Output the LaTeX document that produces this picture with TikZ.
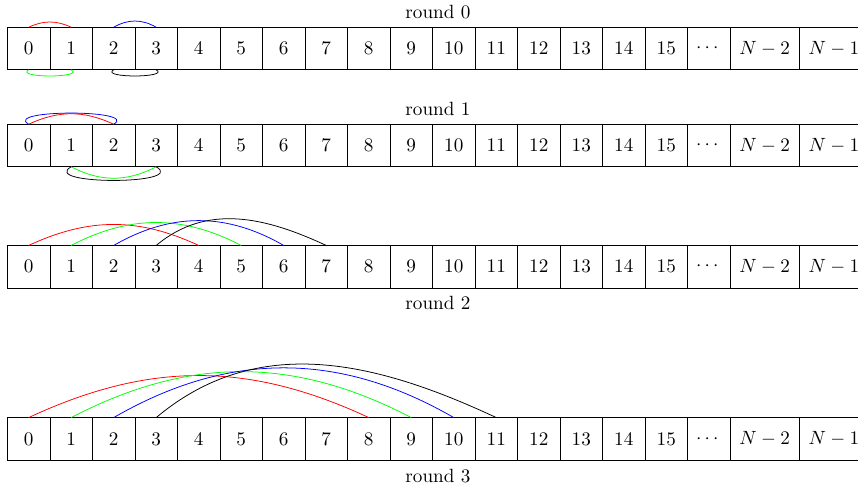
\documentclass[tikz,border=0pt]{standalone}
\usepackage{amsmath, amssymb}
\usepackage{xcolor}
\usepackage{tikz}
\usetikzlibrary{positioning, calc}

% one row of the array: #1 = row name, #2 = y of the cell centres
\newcommand{\arrayrow}[2]{%
  \foreach \i in {0,...,15}
    \node[cell] (#1c\i) at ({0.39+0.78*\i}, #2) {$\i$};
  \node[cell] (#1dots) at (12.87, #2) {$\cdots$};
  \node[widecell] (#1nm2) at (13.895, #2) {$N-2$};
  \node[widecell] (#1nm1) at (15.165, #2) {$N-1$};
}

\tikzset{
  cell/.style={draw, minimum width=0.78cm, minimum height=0.78cm, outer sep=0pt},
  widecell/.style={cell, minimum width=1.27cm},
  roundlabel/.style={anchor=base},
  loopup/.style={out=150, in=30},
  loopdown/.style={out=-150, in=-30},
  longarc/.style={out=40, in=155},
}

\begin{document}
\begin{tikzpicture}[every node/.style={font=\normalsize}]
\useasboundingbox (-0.136, 0) rectangle (15.607, -8.991);
\clip (-0.136, 0) rectangle (15.607, -8.991);

% Round 0: neighbours 0-1 and 2-3
\arrayrow{r0}{-0.890}
\node[roundlabel] (lab0) at (7.9, -0.336) {round 0};
\draw[red]   (r0c0.north) to[bend left=25] (r0c1.north);
\draw[blue]  (r0c2.north) to[bend left=30] (r0c3.north);
\draw[green] (r0c0.south) to[loopdown] (r0c1.south);
\draw[black] (r0c2.south) to[loopdown] (r0c3.south);

% Round 1: distance 2
\arrayrow{r1}{-2.670}
\node[roundlabel] (lab1) at (7.9, -2.116) {round 1};
\draw[red]   (r1c0.north) to[bend left=25] (r1c2.north);
\draw[blue]  (r1c0.north) to[loopup, looseness=0.9] (r1c2.north);
\draw[green] (r1c1.south) to[bend right=27.5] (r1c3.south);
\draw[black] (r1c1.south) to[loopdown, looseness=1.1] (r1c3.south);

% Round 2: distance 4
\arrayrow{r2}{-4.894}
\node[roundlabel] (lab2) at (7.9, -5.688) {round 2};
\draw[red]   (r2c0.north) to[bend left=25] (r2c4.north);
\draw[green] (r2c1.north) to[bend left=27.5] (r2c5.north);
\draw[blue]  (r2c2.north) to[bend left=30] (r2c6.north);
\draw[black] (r2c3.north) to[longarc] (r2c7.north);

% Round 3: distance 8
\arrayrow{r3}{-8.052}
\node[roundlabel] (lab3) at (7.9, -8.850) {round 3};
\draw[red]   (r3c0.north) to[bend left=25] (r3c8.north);
\draw[green] (r3c1.north) to[bend left=27.5] (r3c9.north);
\draw[blue]  (r3c2.north) to[bend left=30] (r3c10.north);
\draw[black] (r3c3.north) to[longarc] (r3c11.north);
\end{tikzpicture}
\end{document}
